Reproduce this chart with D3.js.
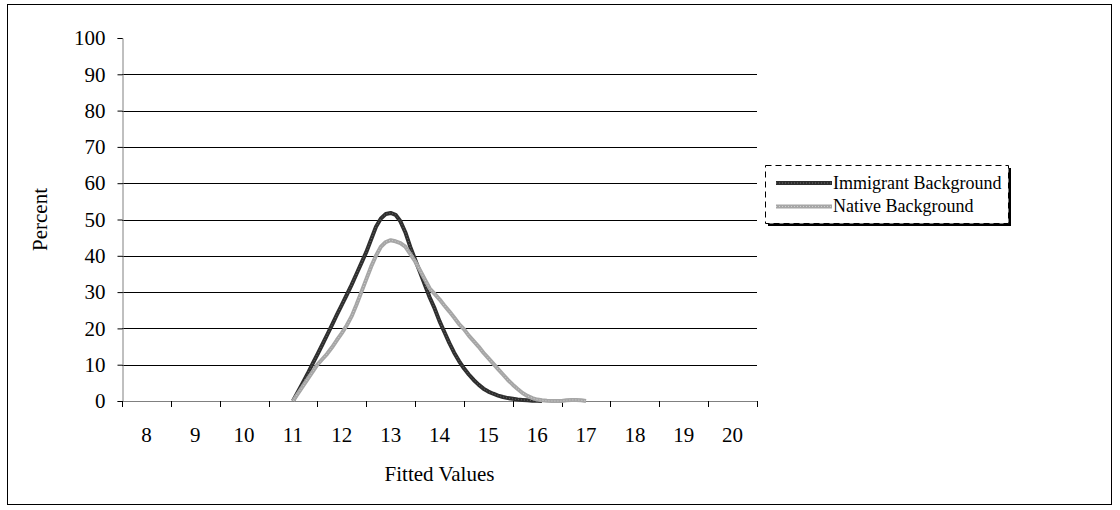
<!DOCTYPE html>
<html>
<head>
<meta charset="utf-8">
<script src="https://cdn.jsdelivr.net/npm/d3@7"></script>
<style>
  body { margin: 0; background: #fff; }
  text { font-family: "Liberation Serif", "Times New Roman", serif; fill: #000; }
</style>
</head>
<body>
<svg id="chart" width="1120" height="510"></svg>
<script>
// category labels on the x axis
const categories = [8, 9, 10, 11, 12, 13, 14, 15, 16, 17, 18, 19, 20];
const yTicks = [0, 10, 20, 30, 40, 50, 60, 70, 80, 90, 100];

// fitted value (x) samples
const fitted = [11.0, 11.1, 11.2, 11.3, 11.4, 11.5, 11.6, 11.7, 11.8, 11.9,
                12.0, 12.1, 12.2, 12.3, 12.4, 12.5, 12.6, 12.7, 12.8, 12.9,
                13.0, 13.1, 13.2, 13.3, 13.4, 13.5, 13.6, 13.7, 13.8, 13.9,
                14.0, 14.1, 14.2, 14.3, 14.4, 14.5, 14.6, 14.7, 14.8, 14.9,
                15.0, 15.1, 15.2, 15.3, 15.4, 15.5, 15.6, 15.7, 15.8, 15.9,
                16.0, 16.1, 16.2, 16.3, 16.4, 16.5, 16.6, 16.7, 16.8, 16.9, 17.0];

const immigrant = [0, 2.5, 5, 7.5, 10.2, 12.8, 15.5, 18.2, 21, 23.8,
                   26.5, 29.2, 32, 35, 38, 41, 44.5, 48, 50.3, 51.5,
                   51.8, 51.3, 49.5, 46.5, 42.5, 39, 35.5, 32, 28.5, 25.5,
                   22, 19, 16, 13.3, 11, 9, 7.3, 5.8, 4.5, 3.4,
                   2.6, 2, 1.5, 1.1, 0.8, 0.6, 0.4, 0.3, 0.2, 0.1,
                   0.05, 0, null, null, null, null, null, null, null, null, null];

const native = [0, 2, 4, 6, 8, 10, 11.5, 13, 14.8, 16.8,
                18.7, 20.8, 23.3, 26.5, 30, 33.5, 37, 40, 42.5, 43.8,
                44.3, 44, 43.5, 42.5, 40.5, 38.5, 36, 33.5, 31, 29.5,
                28, 26.3, 24.7, 23, 21.2, 19.8, 18, 16.5, 15, 13.3,
                11.8, 10.3, 8.8, 7.3, 5.8, 4.5, 3.3, 2.2, 1.4, 0.8,
                0.4, 0.2, 0.05, 0, 0, 0, 0.2, 0.3, 0.3, 0.2, 0];

const seriesNames = ["Immigrant Background", "Native Background"];
const seriesColors = ["#2e2e2e", "#a6a6a6"];
const seriesTexture = ["#6a6a6a", "#d0d0d0"];

const svg = d3.select("#chart");

// outer frame
svg.append("rect")
   .attr("x", 7.5).attr("y", 4.5)
   .attr("width", 1104).attr("height", 500)
   .attr("fill", "none").attr("stroke", "#000").attr("stroke-width", 1);

const plotLeft = 122, plotRight = 757, plotTop = 38, plotBottom = 401;

const x = d3.scaleLinear()
            .domain([categories[0] - 0.5, categories[categories.length - 1] + 0.5])
            .range([plotLeft, plotRight]);

const y = d3.scaleLinear()
            .domain([0, 100])
            .range([plotBottom, plotTop]);

// horizontal gridlines (no line at 100)
svg.append("g")
   .selectAll("line")
   .data(yTicks.filter(d => d > 0 && d < 100))
   .enter()
   .append("line")
   .attr("x1", plotLeft).attr("x2", plotRight)
   .attr("y1", d => Math.round(y(d)) + 0.5)
   .attr("y2", d => Math.round(y(d)) + 0.5)
   .attr("stroke", "#000").attr("stroke-width", 1);

// y axis
const yAxis = svg.append("g")
   .attr("transform", `translate(${plotLeft + 0.5},0)`)
   .call(d3.axisLeft(y).tickValues(yTicks).tickSize(5).tickPadding(12));
yAxis.select(".domain").attr("stroke", "#808080");
yAxis.selectAll(".tick line").attr("stroke", "#000");
yAxis.selectAll(".tick text")
     .attr("font-size", 21)
     .attr("font-family", "Liberation Serif, serif");

// x axis: category labels, ticks between categories
const boundaries = categories.map(c => c - 0.5).concat([categories[categories.length - 1] + 0.5]);
const xg = svg.append("g");
xg.append("line")
  .attr("x1", plotLeft).attr("x2", plotRight)
  .attr("y1", plotBottom + 0.5).attr("y2", plotBottom + 0.5)
  .attr("stroke", "#808080").attr("stroke-width", 1);
xg.selectAll("line.tick")
  .data(boundaries)
  .enter()
  .append("line")
  .classed("tick", true)
  .attr("x1", d => Math.round(x(d)) + 0.5)
  .attr("x2", d => Math.round(x(d)) + 0.5)
  .attr("y1", plotBottom).attr("y2", plotBottom + 6)
  .attr("stroke", "#000");
xg.selectAll("text")
  .data(categories)
  .enter()
  .append("text")
  .attr("x", d => x(d))
  .attr("y", 442)
  .attr("text-anchor", "middle")
  .attr("font-size", 21)
  .text(d => d);

// axis titles
svg.append("text")
   .attr("x", (plotLeft + plotRight) / 2).attr("y", 481)
   .attr("text-anchor", "middle")
   .attr("font-size", 21)
   .text("Fitted Values");

svg.append("text")
   .attr("transform", `translate(47,${(plotTop + plotBottom) / 2}) rotate(-90)`)
   .attr("text-anchor", "middle")
   .attr("font-size", 21)
   .text("Percent");

// curves
const line = d3.line()
               .defined(d => d[1] !== null)
               .x(d => x(d[0]))
               .y(d => y(d[1]))
               .curve(d3.curveLinear);

[immigrant, native].forEach((vals, i) => {
  const pts = fitted.map((f, j) => [f, vals[j]]);
  svg.append("path")
     .datum(pts)
     .attr("d", line)
     .attr("fill", "none")
     .attr("stroke", seriesColors[i])
     .attr("stroke-width", 4)
     .attr("stroke-linejoin", "round");
  // speckled texture like the original pattern line
  svg.append("path")
     .datum(pts)
     .attr("d", line)
     .attr("fill", "none")
     .attr("stroke", seriesTexture[i])
     .attr("stroke-width", 1)
     .attr("stroke-dasharray", "1,2");
});

// legend
const lg = svg.append("g");
lg.append("rect")
  .attr("x", 768).attr("y", 168)
  .attr("width", 243).attr("height", 58)
  .attr("fill", "#000");
lg.append("rect")
  .attr("x", 765.5).attr("y", 165.5)
  .attr("width", 243).attr("height", 58)
  .attr("fill", "#fff")
  .attr("stroke", "#000")
  .attr("stroke-dasharray", "6,4");

seriesNames.forEach((name, i) => {
  const ly = 183 + i * 23.5;
  lg.append("line")
    .attr("x1", 776).attr("x2", 832)
    .attr("y1", ly).attr("y2", ly)
    .attr("stroke", seriesColors[i]).attr("stroke-width", 4);
  lg.append("line")
    .attr("x1", 776).attr("x2", 832)
    .attr("y1", ly).attr("y2", ly)
    .attr("stroke", seriesTexture[i]).attr("stroke-width", 1)
    .attr("stroke-dasharray", "1,2");
  lg.append("text")
    .attr("x", 833).attr("y", ly + 5.5)
    .attr("font-size", 18)
    .text(name);
});
</script>
</body>
</html>
